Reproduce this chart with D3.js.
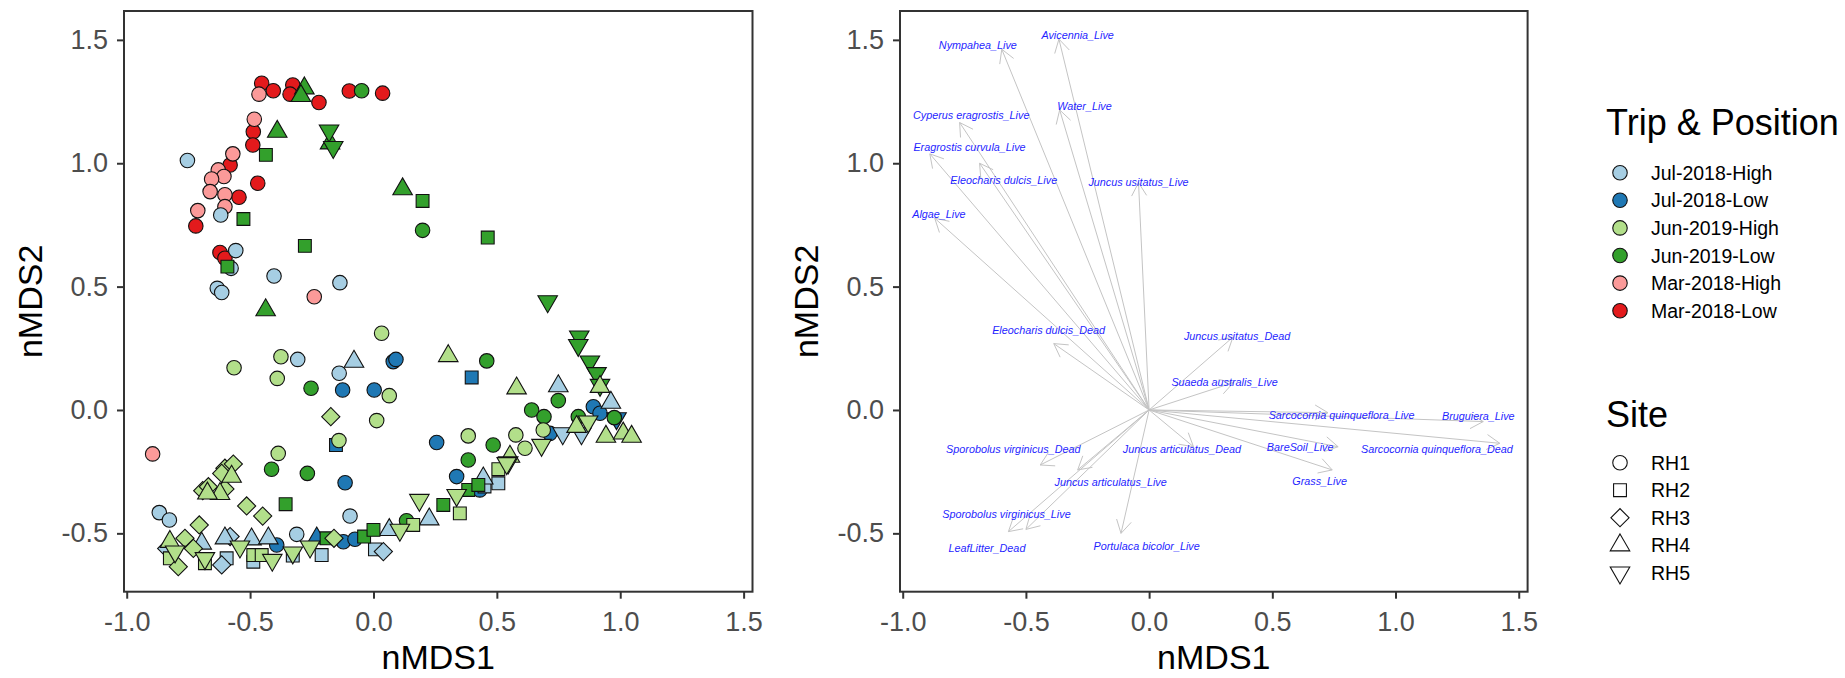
<!DOCTYPE html>
<html>
<head>
<meta charset="utf-8">
<script src="https://cdn.jsdelivr.net/npm/d3@7"></script>
<style>
  body { margin: 0; background: #fff; }
  text { font-family: "Liberation Sans", Arial, sans-serif; }
</style>
</head>
<body>
<svg id="chart" width="1845" height="678"></svg>
<script>
// ---- legend levels ----
const tripLevels = ["Jul-2018-High", "Jul-2018-Low", "Jun-2019-High", "Jun-2019-Low", "Mar-2018-High", "Mar-2018-Low"];
const tripColors = ["#A6CEE3", "#1F78B4", "#B2DF8A", "#33A02C", "#FB9A99", "#E31A1C"];
const siteLevels = ["RH1", "RH2", "RH3", "RH4", "RH5"];

// ---- nMDS scores, [nMDS1, nMDS2, site] per trip & position ----
const marLow = [
  [-0.453, 1.324, 1], [-0.406, 1.294, 1], [-0.327, 1.317, 1], [-0.338, 1.28, 1], [-0.221, 1.246, 1],
  [-0.098, 1.293, 1], [0.037, 1.284, 1], [-0.487, 1.128, 1], [-0.489, 1.074, 1], [-0.581, 0.993, 1],
  [-0.469, 0.919, 1], [-0.545, 0.862, 1], [-0.72, 0.746, 1], [-0.622, 0.638, 1], [-0.602, 0.615, 1]
];
const marHigh = [
  [-0.464, 1.28, 1], [-0.483, 1.178, 1], [-0.57, 1.038, 1], [-0.629, 0.973, 1], [-0.606, 0.946, 1],
  [-0.656, 0.936, 1], [-0.662, 0.885, 1], [-0.602, 0.872, 1], [-0.602, 0.824, 1], [-0.712, 0.808, 1],
  [-0.24, 0.459, 1], [-0.895, -0.178, 1]
];
const julLow = [
  [0.08, 0.196, 1], [0.091, 0.205, 1], [-0.125, 0.081, 1], [0.003, 0.081, 1], [0.256, -0.132, 1],
  [-0.115, -0.295, 1], [0.891, 0.013, 1], [0.918, -0.013, 1], [0.715, -0.095, 1], [-0.392, -0.547, 1],
  [-0.122, -0.534, 1], [-0.075, -0.524, 1], [0.337, -0.27, 1], [0.431, -0.324, 1],
  [0.398, 0.132, 2], [-0.152, -0.142, 2],
  [-0.23, -0.52, 4],
  [0.985, -0.034, 5]
];
const julHigh = [
  [-0.754, 1.011, 1], [-0.619, 0.79, 1], [-0.558, 0.646, 1], [-0.577, 0.574, 1], [-0.403, 0.543, 1],
  [-0.136, 0.516, 1], [-0.633, 0.493, 1], [-0.615, 0.476, 1], [-0.307, 0.205, 1], [-0.139, 0.149, 1],
  [-0.868, -0.416, 1], [-0.827, -0.446, 1], [-0.095, -0.43, 1], [-0.311, -0.504, 1],
  [-0.595, -0.601, 2], [-0.487, -0.615, 2], [-0.327, -0.59, 2], [-0.21, -0.588, 2], [0.006, -0.565, 2],
  [0.506, -0.297, 2], [0.45, -0.31, 2],
  [-0.838, -0.561, 3], [-0.615, -0.628, 3], [-0.581, -0.513, 3], [0.04, -0.574, 3],
  [-0.079, 0.196, 4], [0.749, 0.097, 4], [0.962, 0.03, 4], [-0.696, -0.541, 4], [-0.602, -0.52, 4],
  [-0.494, -0.524, 4], [-0.426, -0.52, 4], [0.064, -0.486, 4], [0.226, -0.443, 4], [0.445, -0.277, 4],
  [0.767, -0.095, 5], [0.843, -0.095, 5]
];
const junLow = [
  [-0.048, 1.294, 1], [0.199, 0.728, 1], [-0.253, 0.088, 1], [0.459, 0.199, 1], [0.485, -0.142, 1],
  [0.384, -0.203, 1], [0.641, 0.0, 1], [0.691, -0.027, 1], [0.749, 0.038, 1], [0.83, -0.027, 1],
  [0.976, -0.031, 1], [-0.413, -0.24, 1], [-0.268, -0.257, 1], [0.134, -0.449, 1],
  [-0.436, 1.034, 2], [-0.527, 0.774, 2], [0.199, 0.847, 2], [0.463, 0.699, 2], [-0.278, 0.665, 2],
  [-0.592, 0.581, 2], [-0.356, -0.382, 2], [-0.19, -0.52, 2], [-0.038, -0.513, 2], [0.0, -0.486, 2],
  [0.283, -0.385, 2], [0.384, -0.324, 2], [0.425, -0.304, 2],
  [-0.28, 1.304, 4], [-0.294, 1.273, 4], [-0.39, 1.128, 4], [-0.176, 1.081, 4], [0.118, 0.895, 4],
  [-0.437, 0.405, 4],
  [-0.18, 1.132, 5], [-0.163, 1.065, 5], [0.706, 0.44, 5], [0.834, 0.297, 5], [0.83, 0.263, 5],
  [0.877, 0.196, 5], [0.904, 0.149, 5], [0.918, 0.101, 5]
];
const junHigh = [
  [0.033, 0.311, 1], [-0.565, 0.171, 1], [-0.375, 0.216, 1], [-0.39, 0.128, 1], [0.064, 0.058, 1],
  [0.013, -0.043, 1], [-0.14, -0.124, 1], [-0.386, -0.176, 1], [0.384, -0.105, 1], [0.688, -0.081, 1],
  [0.577, -0.101, 1], [0.614, -0.155, 1],
  [-0.825, -0.601, 2], [-0.683, -0.621, 2], [-0.487, -0.588, 2], [-0.453, -0.588, 2], [0.161, -0.466, 2],
  [0.35, -0.419, 2], [0.506, -0.24, 2],
  [-0.173, -0.027, 3], [-0.602, -0.236, 3], [-0.568, -0.219, 3], [-0.615, -0.257, 3], [-0.692, -0.327, 3],
  [-0.669, -0.311, 3], [-0.602, -0.32, 3], [-0.514, -0.389, 3], [-0.449, -0.43, 3], [-0.706, -0.466, 3],
  [-0.764, -0.52, 3], [-0.791, -0.635, 3], [-0.73, -0.561, 3], [-0.16, -0.52, 3],
  [0.303, 0.219, 4], [0.58, 0.088, 4], [0.918, 0.094, 4], [-0.575, -0.27, 4], [-0.622, -0.34, 4],
  [-0.673, -0.338, 4], [-0.825, -0.534, 4], [0.942, -0.108, 4], [1.012, -0.095, 4], [1.046, -0.108, 4],
  [0.823, -0.068, 4], [0.553, -0.189, 4],
  [0.87, -0.047, 5], [0.681, -0.142, 5], [0.546, -0.213, 5], [-0.804, -0.574, 5], [-0.683, -0.601, 5],
  [-0.541, -0.554, 5], [-0.41, -0.608, 5], [-0.327, -0.578, 5], [-0.257, -0.554, 5], [0.107, -0.486, 5],
  [0.186, -0.365, 5], [0.337, -0.345, 5], [0.54, -0.216, 5]
];

// ---- species vectors (arrow tips) and their label positions ----
const vecNames = [
  "Nympahea_Live", "Avicennia_Live", "Water_Live", "Cyperus eragrostis_Live", "Eragrostis curvula_Live",
  "Eleocharis dulcis_Live", "Juncus usitatus_Live", "Algae_Live", "Eleocharis dulcis_Dead", "Juncus usitatus_Dead",
  "Suaeda australis_Live", "Sarcocornia quinqueflora_Live", "Bruguiera_Live", "Sarcocornia quinqueflora_Dead",
  "BareSoil_Live", "Grass_Live", "Juncus articulatus_Dead", "Sporobolus virginicus_Dead", "Juncus articulatus_Live",
  "Sporobolus virginicus_Live", "LeafLitter_Dead", "Portulaca bicolor_Live"
];
const vecX = [-0.598, -0.366, -0.363, -0.769, -0.89, -0.688, -0.043, -0.87, -0.387, 0.34, 0.342, 0.726, 1.356, 1.423, 0.767, 0.743, 0.18, -0.442, -0.29, -0.5, -0.571, -0.114];
const vecY = [1.462, 1.503, 1.216, 1.165, 1.038, 1.0, 0.921, 0.777, 0.269, 0.295, 0.111, -0.011, -0.047, -0.135, -0.149, -0.243, -0.149, -0.223, -0.243, -0.484, -0.493, -0.5];
const labX = [-0.695, -0.29, -0.262, -0.722, -0.729, -0.59, -0.043, -0.853, -0.408, 0.357, 0.306, 0.781, 1.336, 1.168, 0.613, 0.692, 0.133, -0.551, -0.156, -0.579, -0.658, -0.01];
const labY = [1.48, 1.52, 1.232, 1.194, 1.065, 0.932, 0.924, 0.793, 0.324, 0.297, 0.111, -0.02, -0.024, -0.158, -0.151, -0.288, -0.159, -0.159, -0.292, -0.422, -0.562, -0.554];

const xTicks = [-1.0, -0.5, 0.0, 0.5, 1.0, 1.5];
const yTicks = [-0.5, 0.0, 0.5, 1.0, 1.5];
const xLimits = [-1.011, 1.536];
const yLimits = [-0.7365, 1.617];

// ---- layout ----
const svg = d3.select("#chart");
const plotTop = 11, plotBottom = 591.7;
const panels = [{ x0: 124, x1: 752.5 }, { x0: 900, x1: 1527.6 }];
const fmt = d3.formatLocale({ decimal: ".", thousands: ",", grouping: [3], currency: ["", ""], minus: "-" }).format(".1f");

const y = d3.scaleLinear().domain(yLimits).range([plotBottom, plotTop]);

const shapeOf = s => {
  const size = 165;
  if (s === 1) return { path: d3.symbol(d3.symbolCircle, size)(), rot: 0 };
  if (s === 2) return { path: d3.symbol(d3.symbolSquare, size)(), rot: 0 };
  if (s === 3) return { path: d3.symbol(d3.symbolSquare, size)(), rot: 45 };
  if (s === 4) return { path: d3.symbol(d3.symbolTriangle, size)(), rot: 0 };
  return { path: d3.symbol(d3.symbolTriangle, size)(), rot: 180 };
};

function drawFrame(p) {
  const x = d3.scaleLinear().domain(xLimits).range([p.x0, p.x1]);
  const g = svg.append("g");

  const xAxis = g.append("g")
    .attr("transform", `translate(0,${plotBottom})`)
    .call(d3.axisBottom(x).tickValues(xTicks).tickFormat(fmt).tickSize(7).tickPadding(13));
  const yAxis = g.append("g")
    .attr("transform", `translate(${p.x0},0)`)
    .call(d3.axisLeft(y).tickValues(yTicks).tickFormat(fmt).tickSize(7).tickPadding(9));

  [xAxis, yAxis].forEach(a => {
    a.select(".domain").remove();
    a.selectAll(".tick line").attr("stroke", "#333").attr("stroke-width", 2);
    a.selectAll(".tick text").attr("fill", "#4D4D4D").style("font-size", "27px")
      .style("font-family", "\"Liberation Sans\", Arial, sans-serif");
  });

  g.append("text")
    .attr("x", (p.x0 + p.x1) / 2).attr("y", 669)
    .attr("text-anchor", "middle").style("font-size", "34px").text("nMDS1");
  g.append("text")
    .attr("transform", `translate(${p.x0 - 82},${(plotTop + plotBottom) / 2}) rotate(-90)`)
    .attr("text-anchor", "middle").style("font-size", "34px").text("nMDS2");
  return x;
}

// ---- left panel: sample scores ----
const xL = drawFrame(panels[0]);
const groups = [
  [marLow, 5], [marHigh, 4], [julLow, 1], [julHigh, 0], [junLow, 3], [junHigh, 2]
];
const rows = [];
groups.forEach(([arr, gi]) => arr.forEach(d => rows.push({ x: d[0], y: d[1], site: d[2], trip: gi })));

svg.append("g").selectAll("path")
  .data(rows)
  .join("path")
  .attr("d", d => shapeOf(d.site).path)
  .attr("transform", d => `translate(${xL(d.x)},${y(d.y)}) rotate(${shapeOf(d.site).rot})`)
  .attr("fill", d => tripColors[d.trip])
  .attr("stroke", "#111")
  .attr("stroke-width", 1.1);

// ---- right panel: species vectors ----
const xR = drawFrame(panels[1]);
const vecs = vecNames.map((n, i) => ({ name: n, x: vecX[i], y: vecY[i], lx: labX[i], ly: labY[i] }));
const ox = xR(0), oy = y(0);
const arrowG = svg.append("g").attr("stroke", "#C4C4C4").attr("stroke-width", 1).attr("fill", "none");
vecs.forEach(v => {
  const tx = xR(v.x), ty = y(v.y);
  const ang = Math.atan2(ty - oy, tx - ox);
  const len = 15, spread = Math.PI / 6;
  arrowG.append("line").attr("x1", ox).attr("y1", oy).attr("x2", tx).attr("y2", ty);
  arrowG.append("path").attr("d",
    `M${tx - len * Math.cos(ang - spread)},${ty - len * Math.sin(ang - spread)}` +
    `L${tx},${ty}L${tx - len * Math.cos(ang + spread)},${ty - len * Math.sin(ang + spread)}`);
});
svg.append("g").selectAll("text")
  .data(vecs)
  .join("text")
  .attr("x", d => xR(d.lx)).attr("y", d => y(d.ly))
  .attr("dy", "0.35em")
  .attr("text-anchor", "middle")
  .attr("fill", "#1f1fff")
  .style("font-size", "10.8px").style("font-style", "italic")
  .text(d => d.name);

// panel borders on top
panels.forEach(p => {
  svg.append("rect")
    .attr("x", p.x0).attr("y", plotTop).attr("width", p.x1 - p.x0).attr("height", plotBottom - plotTop)
    .attr("fill", "none").attr("stroke", "#333").attr("stroke-width", 2);
});

// ---- legends ----
const leg = svg.append("g");
leg.append("text").attr("x", 1606).attr("y", 135).style("font-size", "36px").text("Trip & Position");
const keyY = [172.7, 200.3, 227.9, 255.5, 283.1, 310.7];
tripLevels.forEach((t, i) => {
  leg.append("path").attr("d", shapeOf(1).path)
    .attr("transform", `translate(1620,${keyY[i]})`)
    .attr("fill", tripColors[i]).attr("stroke", "#111").attr("stroke-width", 1.1);
  leg.append("text").attr("x", 1651).attr("y", keyY[i] + 7).style("font-size", "19.5px").text(t);
});
leg.append("text").attr("x", 1606).attr("y", 427).style("font-size", "36px").text("Site");
const siteY = [462.7, 490.2, 517.7, 545.2, 572.7];
siteLevels.forEach((s, i) => {
  const sh = shapeOf(i + 1);
  leg.append("path").attr("d", sh.path)
    .attr("transform", `translate(1620,${siteY[i]}) rotate(${sh.rot})`)
    .attr("fill", "none").attr("stroke", "#111").attr("stroke-width", 1.1);
  leg.append("text").attr("x", 1651).attr("y", siteY[i] + 7).style("font-size", "19.5px").text(s);
});
</script>
</body>
</html>
